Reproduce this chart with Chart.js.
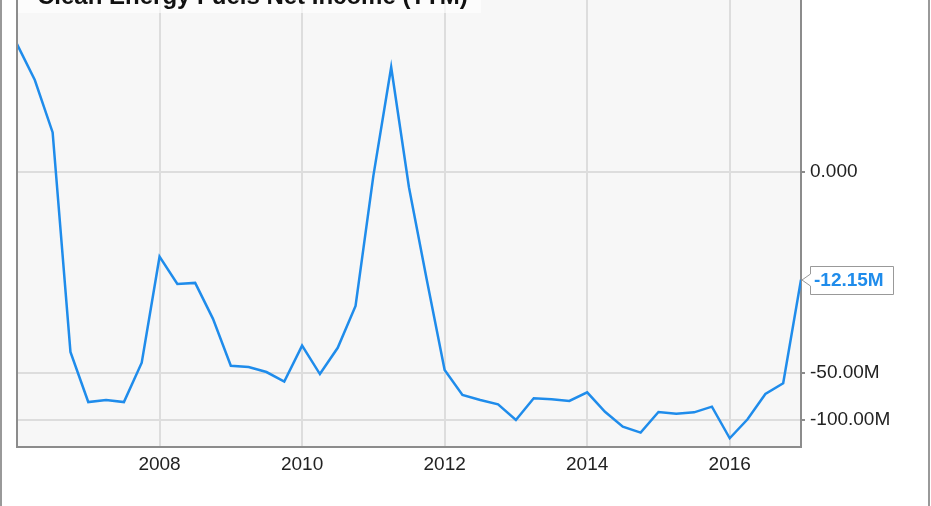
<!DOCTYPE html>
<html>
<head>
<meta charset="utf-8">
<script src="https://cdn.jsdelivr.net/npm/chart.js@4.4.1/dist/chart.umd.min.js"></script>
<style>
  html, body { margin: 0; padding: 0; background: #fff; }
  #wrap { width: 931px; height: 506px; position: relative; }
</style>
</head>
<body>
<div id="wrap"><canvas id="chart"></canvas></div>
<script>
// quarter ends, as decimal years (Dec 2005 = 2006.0)
const quarters = [
  2006.00, 2006.25, 2006.50, 2006.75, 2007.00, 2007.25, 2007.50, 2007.75,
  2008.00, 2008.25, 2008.50, 2008.75, 2009.00, 2009.25, 2009.50, 2009.75,
  2010.00, 2010.25, 2010.50, 2010.75, 2011.00, 2011.25, 2011.50, 2011.75,
  2012.00, 2012.25, 2012.50, 2012.75, 2013.00, 2013.25, 2013.50, 2013.75,
  2014.00, 2014.25, 2014.50, 2014.75, 2015.00, 2015.25, 2015.50, 2015.75,
  2016.00, 2016.25, 2016.50, 2016.75, 2017.00
];
// net income TTM, millions USD
const netIncome = [
  16.7, 9.4, 3.2, -36.6, -76.8, -74.5, -76.8, -42.9,
  -8.3, -13.0, -12.8, -22.3, -44.9, -45.8, -49.3, -56.8,
  -33.3, -50.8, -34.4, -18.3, -0.3, 11.6, -1.2, -12.2,
  -47.8, -69.2, -74.5, -79.4, -100.0, -72.6, -73.7, -75.6,
  -66.5, -88.6, -110.4, -120.6, -88.9, -91.2, -89.4, -82.2,
  -131.0, -99.1, -68.2, -58.2, -12.15
];
const yearTicks = [2008, 2010, 2012, 2014, 2016];
const valueTicks = [0, -50, -100];
const title = 'Clean Energy Fuels Net Income (TTM)';

const LINE = '#1f8ceb';
const FONT = "'Liberation Sans', Arial, sans-serif";

// symmetric log axis (asinh), like the source chart
const C = 5.2;
const tr = v => Math.asinh(v / C);
class SymLogScale extends Chart.LinearScale {
  getPixelForValue(value) {
    if (value === null || value === undefined) return NaN;
    return this.getPixelForDecimal((tr(value) - tr(this.min)) / (tr(this.max) - tr(this.min)));
  }
  getValueForPixel(pixel) {
    const d = this.getDecimalForPixel(pixel);
    return C * Math.sinh(tr(this.min) + d * (tr(this.max) - tr(this.min)));
  }
}
SymLogScale.id = 'symlog';
SymLogScale.defaults = Chart.LinearScale.defaults;
Chart.register(SymLogScale);

const decor = {
  id: 'decor',
  beforeDraw(chart) {
    const { ctx, chartArea: a, width, height } = chart;
    ctx.save();
    ctx.fillStyle = '#fff';
    ctx.fillRect(0, 0, width, height);
    ctx.fillStyle = '#f7f7f7';
    ctx.fillRect(a.left, a.top, a.right - a.left, a.bottom - a.top);
    ctx.strokeStyle = '#999';
    ctx.lineWidth = 2;
    ctx.beginPath();
    ctx.moveTo(1, 0); ctx.lineTo(1, height);
    ctx.moveTo(929, 0); ctx.lineTo(929, height);
    ctx.stroke();
    ctx.restore();
  },
  afterDraw(chart) {
    const { ctx, chartArea: a } = chart;
    ctx.save();
    // left plot border
    ctx.strokeStyle = '#8c8c8c';
    ctx.lineWidth = 2;
    ctx.beginPath();
    ctx.moveTo(a.left, a.top); ctx.lineTo(a.left, a.bottom + 1);
    ctx.stroke();

    // title box (cut at the top)
    ctx.fillStyle = 'rgba(255,255,255,0.65)';
    ctx.fillRect(a.left + 1, 0, 463, 13);
    ctx.fillStyle = '#111';
    ctx.font = 'bold 24px ' + FONT;
    ctx.textBaseline = 'alphabetic';
    ctx.fillText(title, 37, 4);

    // last value label
    const ys = chart.scales.y;
    const last = netIncome[netIncome.length - 1];
    const py = Math.round(ys.getPixelForValue(last));
    const px = a.right + 1;
    const bx = px + 8, bw = 83, bh = 28;
    ctx.fillStyle = '#fff';
    ctx.strokeStyle = '#999';
    ctx.lineWidth = 1;
    ctx.beginPath();
    ctx.moveTo(px, py);
    ctx.lineTo(bx + 0.5, py - 6);
    ctx.lineTo(bx + 0.5, py - bh / 2 + 0.5);
    ctx.lineTo(bx + bw + 0.5, py - bh / 2 + 0.5);
    ctx.lineTo(bx + bw + 0.5, py + bh / 2 + 0.5);
    ctx.lineTo(bx + 0.5, py + bh / 2 + 0.5);
    ctx.lineTo(bx + 0.5, py + 6);
    ctx.closePath();
    ctx.fill();
    ctx.stroke();
    ctx.fillStyle = LINE;
    ctx.font = 'bold 19px ' + FONT;
    ctx.textBaseline = 'middle';
    ctx.fillText(last.toFixed(2) + 'M', bx + 4, py + 1);
    ctx.restore();
  }
};

new Chart(document.getElementById('chart'), {
  type: 'line',
  data: {
    datasets: [{
      label: title,
      data: quarters.map((q, i) => ({ x: q, y: netIncome[i] })),
      borderColor: LINE,
      borderWidth: 2.5,
      pointRadius: 0,
      tension: 0,
      fill: false
    }]
  },
  options: {
    responsive: true,
    maintainAspectRatio: false,
    animation: false,
    layout: { padding: { left: 17, right: 0, top: 0, bottom: 0 } },
    plugins: { legend: { display: false }, tooltip: { enabled: false } },
    scales: {
      x: {
        type: 'linear',
        min: 2006,
        max: 2017,
        afterBuildTicks: s => { s.ticks = yearTicks.map(v => ({ value: v })); },
        afterFit: s => { s.height = 59; s.paddingLeft = 0; s.paddingRight = 0; },
        grid: { color: '#dddddd', lineWidth: 2, drawTicks: false },
        border: { color: '#8c8c8c', width: 2 },
        ticks: {
          padding: 6,
          color: '#222',
          font: { family: FONT, size: 19 },
          maxRotation: 0,
          callback: v => String(v)
        }
      },
      y: {
        type: 'symlog',
        position: 'right',
        min: -149,
        max: 32.5,
        afterBuildTicks: s => { s.ticks = valueTicks.map(v => ({ value: v })); },
        afterFit: s => { s.width = 130; s.paddingTop = 0; s.paddingBottom = 0; },
        grid: { color: '#dddddd', lineWidth: 2, tickLength: 4, tickColor: '#8c8c8c' },
        border: { color: '#8c8c8c', width: 2 },
        ticks: {
          padding: 5,
          color: '#222',
          font: { family: FONT, size: 19 },
          callback: v => v === 0 ? '0.000' : v.toFixed(2) + 'M'
        }
      }
    }
  },
  plugins: [decor]
});
</script>
</body>
</html>
